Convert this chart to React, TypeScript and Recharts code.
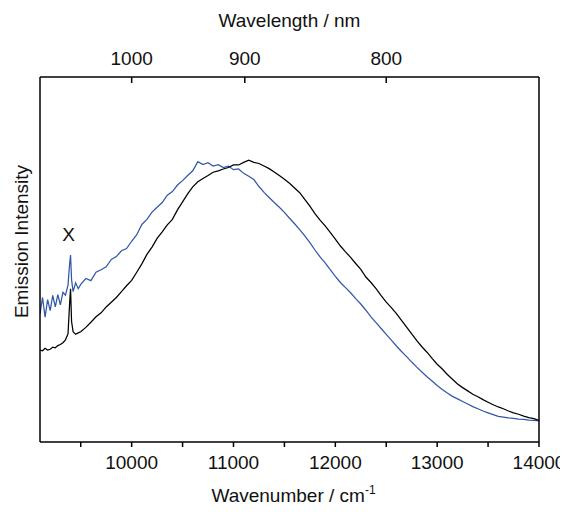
import { LineChart, Line, XAxis, YAxis, ReferenceDot } from "recharts";

// wavenumber grid (cm-1), finer around the 9400 spike
const wavenumbers = [
  9100, 9125, 9150, 9175, 9200, 9225, 9250, 9275, 9300, 9325, 9350, 9375, 9390, 9400, 9410, 9425, 9450, 9475, 9500,
  9550, 9600, 9650, 9700, 9750, 9800, 9850, 9900, 9950, 10000,
  10050, 10100, 10150, 10200, 10250, 10300, 10350, 10400, 10450, 10500,
  10550, 10600, 10650, 10700, 10750, 10800, 10850, 10900, 10950, 11000,
  11050, 11100, 11150, 11200, 11250, 11300, 11350, 11400, 11450, 11500,
  11550, 11600, 11650, 11700, 11750, 11800, 11850, 11900, 11950, 12000,
  12050, 12100, 12150, 12200, 12250, 12300, 12350, 12400, 12450, 12500,
  12550, 12600, 12650, 12700, 12750, 12800, 12850, 12900, 12950, 13000,
  13050, 13100, 13150, 13200, 13250, 13300, 13350, 13400, 13450, 13500,
  13550, 13600, 13650, 13700, 13750, 13800, 13850, 13900, 13950, 14000,
];

const blackIntensity = [
  25.2, 25.0, 25.7, 25.2, 25.4, 26.0, 25.8, 26.4, 26.7, 27.2, 28.0, 29.6, 37.5, 42.0, 33.0, 30.2, 29.5, 29.9, 30.2,
  31.4, 32.8, 34.3, 35.4, 37.0, 38.3, 39.6, 41.2, 42.8, 44.3,
  46.5, 48.8, 51.4, 53.4, 55.8, 57.6, 59.5, 61.0, 63.6, 65.8,
  68.0, 69.9, 71.3, 72.2, 73.0, 73.9, 74.3, 74.8, 75.2, 75.9,
  75.9, 76.6, 77.2, 76.6, 76.3, 75.6, 74.9, 74.0, 73.0, 72.0,
  70.9, 69.6, 68.3, 66.5, 64.6, 62.6, 60.8, 59.2, 57.4, 55.6,
  53.7, 52.1, 50.6, 48.9, 47.3, 45.2, 43.7, 42.0, 40.1, 38.3,
  36.8, 35.2, 33.3, 31.5, 29.6, 27.8, 26.1, 24.6, 22.9, 21.3,
  20.0, 18.5, 17.2, 15.9, 14.9, 14.0, 13.1, 12.4, 11.6, 10.9,
  10.2, 9.6, 9.1, 8.5, 8.0, 7.6, 7.1, 6.7, 6.4, 5.9,
];

const blueIntensity = [
  35.0, 39.6, 34.2, 39.0, 36.0, 40.2, 37.0, 40.4, 37.6, 41.0, 40.2, 43.0, 48.5, 51.2, 44.5, 41.2, 43.6, 42.0, 43.2,
  44.8, 44.2, 46.5, 47.2, 48.0, 50.0, 50.8, 52.4, 53.0, 55.0,
  56.8, 59.6, 61.0, 63.0, 64.3, 65.6, 67.6, 68.6, 70.4, 71.6,
  73.0, 74.3, 76.8, 76.0, 76.5, 75.6, 76.0, 75.2, 75.6, 74.6,
  74.8, 73.6, 72.8, 71.9, 70.0, 68.4, 67.0, 65.6, 64.3, 62.9,
  61.3, 59.8, 58.2, 56.5, 54.6, 52.6, 50.7, 49.1, 47.2, 45.4,
  43.7, 42.3, 40.9, 39.3, 37.8, 36.1, 34.3, 32.7, 31.1, 29.5,
  27.9, 26.3, 24.8, 23.4, 21.9, 20.5, 19.2, 17.9, 16.7, 15.5,
  14.4, 13.4, 12.5, 11.8, 11.1, 10.4, 9.7, 9.1, 8.5, 8.0,
  7.5, 7.0, 6.8, 6.6, 6.5, 6.3, 6.2, 6.0, 5.9, 5.8,
];

const bottomTicks = [9500, 10000, 10500, 11000, 11500, 12000, 12500, 13000, 13500, 14000];
const wavelengthLabels = [1000, 900, 800]; // nm, shown on top axis

const data = wavenumbers.map((w, i) => ({
  w,
  black: blackIntensity[i],
  blue: blueIntensity[i],
}));

const FONT = "'Liberation Sans', Arial, sans-serif";
const TEXT = "#111";

const BottomTitle = ({ viewBox }: any) => {
  const cx = viewBox.x + viewBox.width / 2;
  return (
    <text x={cx + 4} y={viewBox.y + 60} textAnchor="middle" fontSize={19} fontFamily={FONT} fill={TEXT}>
      Wavenumber / cm
      <tspan dy={-8} fontSize={12}>
        -1
      </tspan>
    </text>
  );
};

const LeftTitle = ({ viewBox }: any) => {
  const x = viewBox.x + 19.5;
  const y = viewBox.y + viewBox.height / 2 - 18;
  return (
    <text
      x={x}
      y={y}
      transform={`rotate(-90, ${x}, ${y})`}
      textAnchor="middle"
      fontSize={19}
      fontFamily={FONT}
      fill={TEXT}
    >
      Emission Intensity
    </text>
  );
};

export default function App() {
  return (
    <LineChart width={560} height={504} data={data} margin={{ top: 0, right: 0, bottom: 0, left: 0 }}>
      <XAxis
        xAxisId="bottom"
        dataKey="w"
        type="number"
        domain={[9100, 14000]}
        ticks={bottomTicks}
        tickFormatter={(v: number) => (v % 1000 === 0 ? String(v) : "")}
        height={70}
        tickSize={5}
        tickMargin={9}
        allowDataOverflow
        axisLine={{ stroke: "#000", strokeWidth: 1.5 }}
        tickLine={{ stroke: "#000", strokeWidth: 1.5 }}
        tick={{ fontSize: 19, fontFamily: FONT, fill: TEXT }}
        label={<BottomTitle />}
      />
      <XAxis
        xAxisId="top"
        orientation="top"
        dataKey="w"
        type="number"
        domain={[9100, 14000]}
        ticks={wavelengthLabels.map((nm) => 1e7 / nm)}
        tickFormatter={(v: number) => String(Math.round(1e7 / v))}
        height={69}
        tickSize={-6}
        tickMargin={18}
        allowDataOverflow
        axisLine={{ stroke: "#000", strokeWidth: 1.5 }}
        tickLine={{ stroke: "#000", strokeWidth: 1.5 }}
        tick={{ fontSize: 19, fontFamily: FONT, fill: TEXT }}
        label={{ value: "Wavelength / nm", position: "insideTop", offset: 6, fontSize: 19, fontFamily: FONT, fill: TEXT }}
      />
      <YAxis
        yAxisId="left"
        domain={[0, 100]}
        width={32}
        tick={false}
        tickLine={false}
        axisLine={{ stroke: "#000", strokeWidth: 1.5 }}
        label={<LeftTitle />}
      />
      <YAxis
        yAxisId="right"
        orientation="right"
        domain={[0, 100]}
        width={29}
        tick={false}
        tickLine={false}
        axisLine={{ stroke: "#000", strokeWidth: 1.5 }}
      />
      <Line
        xAxisId="bottom"
        yAxisId="left"
        type="linear"
        dataKey="blue"
        stroke="#3158a8"
        strokeWidth={1.25}
        dot={false}
        isAnimationActive={false}
      />
      <Line
        xAxisId="bottom"
        yAxisId="left"
        type="linear"
        dataKey="black"
        stroke="#000"
        strokeWidth={1.25}
        dot={false}
        isAnimationActive={false}
      />
      <ReferenceDot
        xAxisId="bottom"
        yAxisId="left"
        x={9380}
        y={57}
        r={0}
        fill="none"
        stroke="none"
        label={{ value: "X", position: "center", fontSize: 19, fontFamily: FONT, fill: TEXT }}
      />
    </LineChart>
  );
}
